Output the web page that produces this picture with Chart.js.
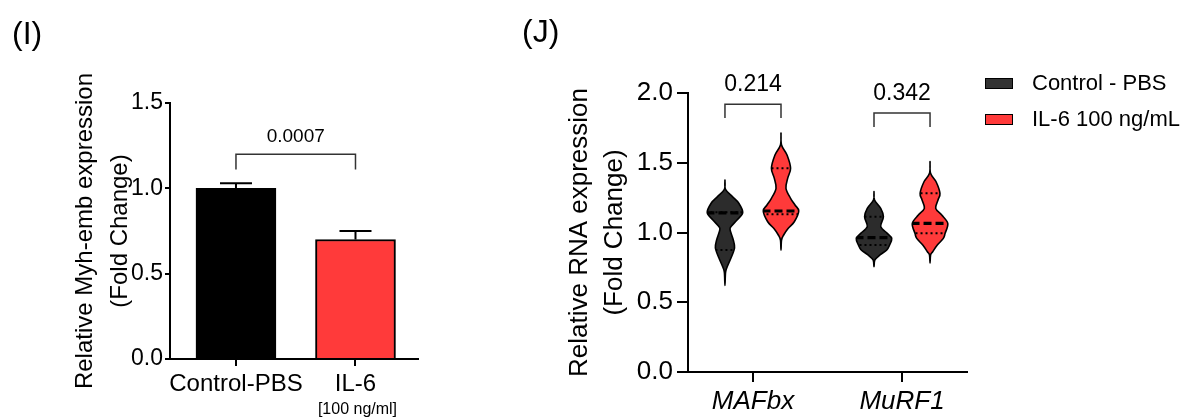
<!DOCTYPE html>
<html><head><meta charset="utf-8">
<script src="https://cdn.jsdelivr.net/npm/chart.js@4"></script>
<style>
html,body{margin:0;padding:0;background:#fff;}
#wrap{position:relative;width:1187px;height:419px;overflow:hidden;background:#fff;}
canvas{position:absolute;top:0;}
#cI{left:0;} #cJ{left:500px;}
</style></head><body>
<div id="wrap"><canvas id="cI" width="500" height="419"></canvas><canvas id="cJ" width="687" height="419"></canvas></div>
<script>
// ---------- Panel (I) data ----------
const groupsI = ['Control-PBS', 'IL-6'];
const subLabelsI = ['', '[100 ng/ml]'];
const meansI = [1.00, 0.70];
const errorsI = [0.03, 0.05];
const ticksI = [0, 0.5, 1.0, 1.5];
const pValueI = '0.0007';
const bracketI = [1.20, 1.11, 1.305]; // bar level, leg end, label level

// ---------- Panel (J) data ----------
const genesJ = ['MAFbx', 'MuRF1'];
const seriesJ = ['Control - PBS', 'IL-6 100 ng/mL'];
const ticksJ = [0, 0.5, 1.0, 1.5, 2.0];
// violin profiles: [value, relative density]
const profCtrlMAFbx = [[1.376,0],[1.31,0.03],[1.257,0.42],[1.21,0.78],[1.142,1.0],[1.09,0.68],[1.042,0.34],[1.018,0.29],[0.946,0.47],[0.889,0.54],[0.817,0.34],[0.746,0.1],[0.71,0.03],[0.62,0]];
const profIL6MAFbx  = [[1.713,0],[1.627,0.03],[1.556,0.34],[1.46,0.54],[1.39,0.38],[1.317,0.28],[1.245,0.54],[1.197,0.79],[1.154,1.0],[1.077,0.75],[1.03,0.41],[0.982,0.15],[0.946,0.03],[0.875,0]];
const profCtrlMuRF1 = [[1.293,0],[1.233,0.03],[1.173,0.38],[1.113,0.53],[1.042,0.38],[0.994,0.75],[0.958,1.0],[0.91,0.88],[0.875,0.72],[0.839,0.34],[0.803,0.05],[0.755,0]];
const profIL6MuRF1  = [[1.508,0],[1.424,0.03],[1.364,0.34],[1.281,0.56],[1.233,0.45],[1.173,0.32],[1.125,0.66],[1.066,1.0],[0.994,0.85],[0.958,0.75],[0.91,0.41],[0.862,0.15],[0.839,0.03],[0.78,0]];
const ctrlMedian = [1.14, 0.963];
const ctrlQ1 = [0.875, 0.91];
const ctrlQ3 = [1.146, 1.113];
const il6Median = [1.154, 1.066];
const il6Q1 = [1.13, 0.994];
const il6Q3 = [1.46, 1.281];
const pValuesJ = ['0.214', '0.342'];
const bracketsJ = [[1.92, 1.82, 2.057], [1.857, 1.756, 1.996]];

const FONT = "'Liberation Sans', Arial, Helvetica, sans-serif";
Chart.defaults.font.family = FONT;
Chart.defaults.color = '#000';
const RED = '#ff3a3a';
const DARK = '#2c2c2c';

// ---------- Panel I ----------
const pluginI = {
  id: 'extrasI',
  afterDatasetsDraw(chart) {
    const {ctx, scales: {x, y}} = chart;
    const meta = chart.getDatasetMeta(0);
    ctx.save();
    ctx.strokeStyle = '#000';
    ctx.lineWidth = 2;
    meta.data.forEach((el, i) => {
      const px = el.x;
      const yTop = y.getPixelForValue(meansI[i] + errorsI[i]);
      const yM = y.getPixelForValue(meansI[i]);
      ctx.beginPath();
      ctx.moveTo(px, yM); ctx.lineTo(px, yTop);
      ctx.moveTo(px - 16, yTop); ctx.lineTo(px + 16, yTop);
      ctx.stroke();
    });
    // bracket
    const x1 = x.getPixelForValue(0), x2 = x.getPixelForValue(1);
    const yb = y.getPixelForValue(bracketI[0]), yl = y.getPixelForValue(bracketI[1]);
    ctx.strokeStyle = '#333'; ctx.lineWidth = 1.5;
    ctx.beginPath();
    ctx.moveTo(x1, yl); ctx.lineTo(x1, yb); ctx.lineTo(x2, yb); ctx.lineTo(x2, yl);
    ctx.stroke();
    ctx.fillStyle = '#000';
    ctx.font = '19px ' + FONT;
    ctx.textAlign = 'center'; ctx.textBaseline = 'middle';
    ctx.fillText(pValueI, (x1 + x2) / 2, y.getPixelForValue(bracketI[2]));
    // sub labels
    ctx.font = '16px ' + FONT;
    subLabelsI.forEach((s, i) => { if (s) ctx.fillText(s, x.getPixelForValue(i) + 2, chart.chartArea.bottom + 51); });
    // panel letter
    ctx.font = '32px ' + FONT;
    ctx.textAlign = 'left';
    ctx.fillText('(I)', 12, 35);
    ctx.restore();
  }
};

new Chart(document.getElementById('cI'), {
  type: 'bar',
  data: {
    datasets: [{
      data: meansI.map((m, i) => ({x: i, y: m})),
      backgroundColor: ['#000000', RED],
      borderColor: '#000',
      borderWidth: 2,
      barThickness: 80
    }]
  },
  options: {
    responsive: false, animation: false,
    layout: {padding: {left: 0, right: 82, top: 103, bottom: 0}},
    plugins: {legend: {display: false}, tooltip: {enabled: false}},
    scales: {
      x: {
        type: 'linear', min: -0.552, max: 1.523, offset: false,
        afterBuildTicks: s => { s.ticks = groupsI.map((g, i) => ({value: i})); },
        ticks: {callback: v => groupsI[v], font: {size: 24}, color: '#000', padding: 4, autoSkip: false, maxRotation: 0, minRotation: 0},
        grid: {display: true, offset: false, drawOnChartArea: false, drawTicks: true, tickLength: 7, color: '#000', lineWidth: 2},
        border: {display: true, color: '#000', width: 2},
        afterFit: s => { s.height = 60; }
      },
      y: {
        min: 0, max: 1.5,
        afterBuildTicks: s => { s.ticks = ticksI.map(v => ({value: v})); },
        ticks: {callback: v => v.toFixed(1), font: {size: 23}, color: '#000', padding: 2},
        grid: {display: true, drawOnChartArea: false, drawTicks: true, tickLength: 5, color: '#000', lineWidth: 2},
        border: {display: true, color: '#000', width: 2},
        title: {display: true, text: ['Relative Myh-emb expression', '(Fold Change)'], color: '#000', font: {size: 24, lineHeight: 35 / 24}, padding: {top: 67.5, bottom: 0}},
        afterFit: s => { s.width = 170; }
      }
    }
  },
  plugins: [pluginI]
});

// ---------- Panel J ----------
const sideOffset = [-0.188, 0.188];
const maxHalf = 0.119;
const profilesJ = [[profCtrlMAFbx, profCtrlMuRF1], [profIL6MAFbx, profIL6MuRF1]];
const mediansJ = [ctrlMedian, il6Median];
const q1J = [ctrlQ1, il6Q1];
const q3J = [ctrlQ3, il6Q3];
const fillsJ = [DARK, RED];

function smoothClosed(ctx, p) {
  const n = p.length;
  ctx.moveTo(p[0][0], p[0][1]);
  for (let i = 0; i < n; i++) {
    const p0 = p[(i - 1 + n) % n], p1 = p[i], p2 = p[(i + 1) % n], p3 = p[(i + 2) % n];
    ctx.bezierCurveTo(
      p1[0] + (p2[0] - p0[0]) / 6, p1[1] + (p2[1] - p0[1]) / 6,
      p2[0] - (p3[0] - p1[0]) / 6, p2[1] - (p3[1] - p1[1]) / 6,
      p2[0], p2[1]);
  }
  ctx.closePath();
}

const pluginJ = {
  id: 'violinsJ',
  afterDatasetsDraw(chart) {
    const {ctx, scales: {x, y}} = chart;
    ctx.save();
    seriesJ.forEach((s, si) => {
      genesJ.forEach((g, gi) => {
        const cx = gi + sideOffset[si];
        const prof = profilesJ[si][gi];
        const right = prof.map(([v, d]) => [x.getPixelForValue(cx + d * maxHalf), y.getPixelForValue(v)]);
        const left = prof.slice(1, -1).map(([v, d]) => [x.getPixelForValue(cx - d * maxHalf), y.getPixelForValue(v)]).reverse();
        const pts = right.concat(left);
        ctx.beginPath(); smoothClosed(ctx, pts);
        ctx.fillStyle = fillsJ[si]; ctx.fill();
        ctx.save();
        ctx.clip();
        const xl = x.getPixelForValue(cx - maxHalf * 1.1), xr = x.getPixelForValue(cx + maxHalf * 1.1);
        ctx.strokeStyle = '#000';
        [q1J[si][gi], q3J[si][gi]].forEach(q => {
          ctx.lineWidth = 2; ctx.setLineDash([2, 3]);
          ctx.beginPath(); const yy = y.getPixelForValue(q); ctx.moveTo(xl, yy); ctx.lineTo(xr, yy); ctx.stroke();
        });
        ctx.lineWidth = 3.2; ctx.setLineDash([8, 4]);
        ctx.beginPath(); const ym = y.getPixelForValue(mediansJ[si][gi]); ctx.moveTo(xl + 1, ym); ctx.lineTo(xr, ym); ctx.stroke();
        ctx.restore();
        ctx.setLineDash([]);
        ctx.beginPath(); smoothClosed(ctx, pts);
        ctx.strokeStyle = '#000'; ctx.lineWidth = 1.6; ctx.stroke();
      });
    });
    // brackets
    ctx.strokeStyle = '#333'; ctx.lineWidth = 1.5; ctx.setLineDash([]);
    ctx.fillStyle = '#000'; ctx.font = '23px ' + FONT; ctx.textAlign = 'center'; ctx.textBaseline = 'middle';
    genesJ.forEach((g, gi) => {
      const x1 = x.getPixelForValue(gi + sideOffset[0]), x2 = x.getPixelForValue(gi + sideOffset[1]);
      const yb = y.getPixelForValue(bracketsJ[gi][0]), yl = y.getPixelForValue(bracketsJ[gi][1]);
      ctx.beginPath(); ctx.moveTo(x1, yl); ctx.lineTo(x1, yb); ctx.lineTo(x2, yb); ctx.lineTo(x2, yl); ctx.stroke();
      ctx.fillText(pValuesJ[gi], (x1 + x2) / 2, y.getPixelForValue(bracketsJ[gi][2]));
    });
    // legend
    ctx.textAlign = 'left'; ctx.font = '22px ' + FONT;
    const legFill = ['#333333', RED];
    seriesJ.forEach((s, si) => {
      const top = 78 + si * 36;
      ctx.fillStyle = legFill[si]; ctx.fillRect(485, top, 28, 11);
      ctx.strokeStyle = '#000'; ctx.lineWidth = 1; ctx.strokeRect(485.5, top + 0.5, 27, 10);
      ctx.fillStyle = '#000'; ctx.fillText(s, 532, top + 6);
    });
    ctx.font = '32px ' + FONT;
    ctx.fillText('(J)', 22, 33);
    ctx.restore();
  }
};

new Chart(document.getElementById('cJ'), {
  type: 'scatter',
  data: {
    datasets: seriesJ.map((name, si) => ({
      label: name,
      data: genesJ.map((g, gi) => ({x: gi + sideOffset[si], y: mediansJ[si][gi]})),
      pointRadius: 0, showLine: false
    }))
  },
  options: {
    responsive: false, animation: false,
    layout: {padding: {left: 0, right: 220, top: 93, bottom: 0}},
    plugins: {legend: {display: false}, tooltip: {enabled: false}},
    scales: {
      x: {
        type: 'linear', min: -0.436, max: 1.436,
        afterBuildTicks: s => { s.ticks = genesJ.map((g, i) => ({value: i})); },
        ticks: {callback: v => genesJ[v], font: {size: 26, style: 'italic'}, color: '#000', padding: 4, autoSkip: false, maxRotation: 0, minRotation: 0},
        grid: {display: true, drawOnChartArea: false, drawTicks: true, tickLength: 10, color: '#000', lineWidth: 2},
        border: {display: true, color: '#000', width: 2},
        afterFit: s => { s.height = 47; }
      },
      y: {
        min: 0, max: 2,
        afterBuildTicks: s => { s.ticks = ticksJ.map(v => ({value: v})); },
        ticks: {callback: v => v.toFixed(1), font: {size: 26}, color: '#000', padding: 4},
        grid: {display: true, drawOnChartArea: false, drawTicks: true, tickLength: 11, color: '#000', lineWidth: 2},
        border: {display: true, color: '#000', width: 2},
        title: {display: true, text: ['Relative RNA expression', '(Fold Change)'], color: '#000', font: {size: 26, lineHeight: 35 / 26}, padding: {top: 62.5, bottom: 0}},
        afterFit: s => { s.width = 188; }
      }
    }
  },
  plugins: [pluginJ]
});
</script>
</body></html>
